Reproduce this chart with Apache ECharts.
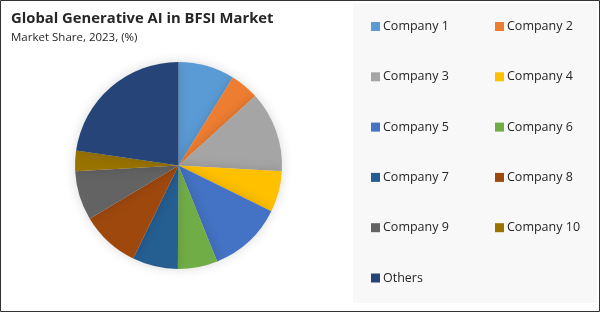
<!DOCTYPE html>
<html>
<head>
<meta charset="utf-8">
<script src="https://cdn.jsdelivr.net/npm/echarts@6/dist/echarts.min.js"></script>
<style>
html,body{margin:0;padding:0;background:#fff;}
#chart{width:600px;height:313px;}
</style>
</head>
<body>
<div id="chart"></div>
<script>
const categories = ['Company 1','Company 2','Company 3','Company 4','Company 5','Company 6','Company 7','Company 8','Company 9','Company 10','Others'];
const shares = [8.8, 4.5, 12.6, 6.4, 11.6, 6.2, 7.1, 9.2, 7.7, 3.2, 22.7];
const colors = ['#5B9BD5','#ED7D31','#A5A5A5','#FFC000','#4472C4','#70AD47','#255E91','#9E480E','#636363','#997300','#264478'];
const titleText = 'Global Generative AI in BFSI Market';
const subtitleText = 'Market Share, 2023, (%)';

const leftCol = categories.filter((c, i) => i % 2 === 0);
const rightCol = categories.filter((c, i) => i % 2 === 1);

const chart = echarts.init(document.getElementById('chart'), null, {renderer: 'canvas'});
const legendCommon = {
  orient: 'vertical',
  icon: 'rect',
  itemWidth: 9,
  itemHeight: 9,
  itemGap: 36.3,
  selectedMode: false,
  textStyle: {fontFamily: 'Open Sans', fontSize: 12.5, color: '#262626', lineHeight: 14, padding: [0,0,0,-2]},
  padding: 0
};
chart.setOption({
  animation: false,
  backgroundColor: '#ffffff',
  color: colors,
  graphic: [
    {type: 'rect', shape: {x: 353, y: 3, width: 244, height: 300}, style: {fill: '#f8f8f8'}, z: -10},
    {type: 'rect', shape: {x: 0.5, y: 0.5, width: 599, height: 311}, style: {fill: 'none', stroke: '#333', lineWidth: 1}, z: 100}
  ],
  title: {
    text: titleText,
    subtext: subtitleText,
    left: 6,
    top: 6,
    itemGap: 6,
    textStyle: {fontFamily: 'Open Sans', fontSize: 14.8, fontWeight: 'bold', color: '#262626'},
    subtextStyle: {fontFamily: 'Open Sans', fontSize: 11.5, color: '#262626'}
  },
  legend: [
    Object.assign({}, legendCommon, {data: leftCol, left: 371, top: 19.5}),
    Object.assign({}, legendCommon, {data: rightCol, left: 495, top: 19.5})
  ],
  series: [{
    type: 'pie',
    center: [178.5, 165.5],
    radius: [0, 103.5],
    startAngle: 90,
    clockwise: true,
    label: {show: false},
    labelLine: {show: false},
    emphasis: {disabled: true},
    itemStyle: {borderWidth: 0, shadowBlur: 12, shadowColor: 'rgba(0,0,0,0.15)'},
    data: categories.map((c, i) => ({name: c, value: shares[i]}))
  }]
});
</script>
</body>
</html>
